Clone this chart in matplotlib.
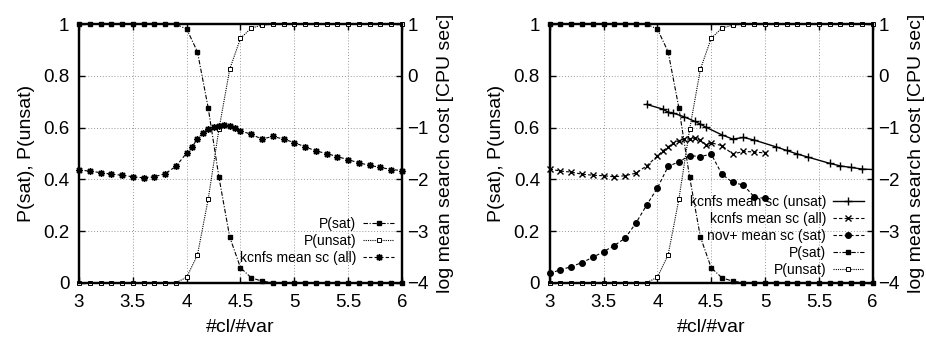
import matplotlib
matplotlib.use("Agg")
import matplotlib.pyplot as plt
from matplotlib.ticker import FuncFormatter

plt.rcParams["font.family"] = ["Liberation Sans", "DejaVu Sans"]

# ── data ─────────────────────────────────────────
ratio = [3.0, 3.1, 3.2, 3.3, 3.4, 3.5, 3.6, 3.7, 3.8, 3.9, 4.0, 4.1, 4.2, 4.3, 4.4, 4.5,
         4.6, 4.7, 4.8, 4.9, 5.0, 5.1, 5.2, 5.3, 5.4, 5.5, 5.6, 5.7, 5.8, 5.9, 6.0]
p_sat = [1, 1, 1, 1, 1, 1, 1, 1, 1, 1, 0.982, 0.894, 0.677, 0.408, 0.177, 0.058,
         0.019, 0.006, 0, 0, 0, 0, 0, 0, 0, 0, 0, 0, 0, 0, 0]
p_unsat = [0, 0, 0, 0, 0, 0, 0, 0, 0, 0, 0.021, 0.107, 0.323, 0.594, 0.826, 0.946,
           0.985, 0.997, 1, 1, 1, 1, 1, 1, 1, 1, 1, 1, 1, 1, 1]

# left panel: kcnfs mean search cost (all)
kc_all_x_l = [3.0, 3.1, 3.2, 3.3, 3.4, 3.5, 3.6, 3.7, 3.8, 3.9,
              4.0, 4.05, 4.1, 4.15, 4.2, 4.25, 4.3, 4.35, 4.4, 4.45, 4.5,
              4.6, 4.7, 4.8, 4.9, 5.0, 5.1, 5.2, 5.3, 5.4, 5.5, 5.6, 5.7, 5.8, 5.9, 6.0]
kc_all_l = [-1.82, -1.84, -1.87, -1.90, -1.92, -1.95, -1.97, -1.95, -1.89, -1.75,
            -1.49, -1.37, -1.22, -1.10, -1.03, -0.98, -0.96, -0.95, -0.97, -1.01, -1.06,
            -1.13, -1.22, -1.17, -1.22, -1.29, -1.37, -1.45, -1.50, -1.56, -1.62, -1.68,
            -1.73, -1.77, -1.81, -1.83]

# right panel
kc_unsat_x = [3.9, 4.05, 4.1, 4.15, 4.25, 4.35, 4.4, 4.45, 4.6, 4.7, 4.8, 4.9,
              5.1, 5.2, 5.3, 5.4, 5.6, 5.7, 5.8, 5.9, 6.0]
kc_unsat = [-0.55, -0.64, -0.70, -0.72, -0.79, -0.88, -0.93, -0.99, -1.14, -1.22, -1.19, -1.24,
            -1.37, -1.44, -1.51, -1.57, -1.69, -1.74, -1.77, -1.80, -1.81]

kc_all_x_r = [3.0, 3.1, 3.2, 3.3, 3.4, 3.5, 3.6, 3.7, 3.8, 3.9,
              4.0, 4.05, 4.1, 4.15, 4.2, 4.25, 4.3, 4.35, 4.4, 4.45, 4.5,
              4.6, 4.7, 4.8, 4.9, 5.0]
kc_all_r = [-1.80, -1.84, -1.86, -1.90, -1.92, -1.93, -1.95, -1.93, -1.88, -1.74,
            -1.55, -1.45, -1.37, -1.30, -1.25, -1.22, -1.22, -1.20, -1.24, -1.33, -1.29,
            -1.35, -1.51, -1.46, -1.47, -1.49]

nov_x = [3.0, 3.1, 3.2, 3.3, 3.4, 3.5, 3.6, 3.7, 3.8, 3.9, 4.0,
         4.1, 4.2, 4.3, 4.4, 4.5, 4.6, 4.7, 4.8, 4.9, 5.0]
nov_sat = [-3.82, -3.75, -3.69, -3.61, -3.51, -3.40, -3.28, -3.14, -2.85, -2.50, -2.17,
           -1.75, -1.66, -1.54, -1.56, -1.51, -1.90, -2.06, -2.11, -2.34, -2.37]

# ── style ────────────────────────────────────────
FS_TICK = 13.5
FS_LABEL = 14
FS_KEY = 10
LW = 0.8
DASHDOT = (0, (4, 1.5, 1, 1.5))
DOTTED = (0, (1, 1))
DASHED = (0, (3, 2))
ASTER = (8, 2, 0)

fmt = FuncFormatter(lambda v, p: ("%g" % v).replace("-", "\u2212"))


def setup_axes(fig, left):
    ax = fig.add_axes([left, 0.1685, 0.3488, 0.7600])
    ax2 = ax.twinx()
    ax.set_xlim(3, 6)
    ax.set_ylim(0, 1)
    ax2.set_ylim(-4, 1)
    ax.set_xticks([3, 3.5, 4, 4.5, 5, 5.5, 6])
    ax.set_yticks([0, 0.2, 0.4, 0.6, 0.8, 1])
    ax2.set_yticks([-4, -3, -2, -1, 0, 1])
    for a in (ax, ax2):
        for s in a.spines.values():
            s.set_linewidth(1.6)
        a.xaxis.set_major_formatter(fmt)
        a.yaxis.set_major_formatter(fmt)
    ax.tick_params(axis="both", direction="in", length=4, width=1, labelsize=FS_TICK,
                   top=True, right=False)
    ax.tick_params(axis="x", pad=8)
    ax.tick_params(axis="y", pad=7)
    ax2.tick_params(axis="y", direction="in", length=4, width=1, labelsize=FS_TICK, pad=4)
    ax.grid(True, color="#999999", linestyle=(0, (1, 2)), linewidth=0.7)
    ax.set_xlabel("#cl/#var", fontsize=FS_LABEL, labelpad=6)
    ax.set_ylabel("P(sat), P(unsat)", fontsize=FS_LABEL, labelpad=6)
    ax2.set_ylabel("log mean search cost [CPU sec]", fontsize=FS_LABEL, labelpad=6)
    return ax, ax2


def psat_lines(ax):
    l1, = ax.plot(ratio, p_sat, color="black", lw=LW, ls=DASHDOT, marker="s",
                  ms=3.5, mfc="black", mec="black", label="P(sat)", clip_on=False, zorder=3)
    l2, = ax.plot(ratio, p_unsat, color="black", lw=LW, ls=DOTTED, marker="s",
                  ms=3.5, mfc="white", mec="black", mew=0.7, label="P(unsat)",
                  clip_on=False, zorder=3)
    return l1, l2


fig = plt.figure(figsize=(9.26, 3.40), dpi=100)

# left panel
ax, ax2 = setup_axes(fig, 0.0853)
h_sat, h_unsat = psat_lines(ax)
h_all, = ax2.plot(kc_all_x_l, kc_all_l, color="black", lw=LW, ls=DASHED, marker=ASTER,
                  ms=5, mew=1.0, label="kcnfs mean sc (all)", clip_on=False)
ax2.legend(handles=[h_sat, h_unsat, h_all], loc="upper right", bbox_to_anchor=(0.975, 0.255),
           frameon=False, markerfirst=False, fontsize=FS_KEY, handlelength=2.2,
           handletextpad=0.5, labelspacing=0.22, borderpad=0, borderaxespad=0, numpoints=1)

# right panel
bx, bx2 = setup_axes(fig, 0.5936)
h_sat, h_unsat = psat_lines(bx)
h_un, = bx2.plot(kc_unsat_x, kc_unsat, color="black", lw=1.0, ls="-", marker="+",
                 ms=6, mew=1.0, markevery=slice(0, -1), label="kcnfs mean sc (unsat)")
h_all, = bx2.plot(kc_all_x_r, kc_all_r, color="black", lw=LW, ls=DASHED, marker="x",
                  ms=4.5, mew=1.0, label="kcnfs mean sc (all)", clip_on=False)
h_nov, = bx2.plot(nov_x, nov_sat, color="black", lw=LW, ls=DASHED, marker="o",
                  ms=4, label="nov+ mean sc (sat)", clip_on=False)
bx2.legend(handles=[h_un, h_all, h_nov, h_sat, h_unsat], loc="upper right",
           bbox_to_anchor=(0.972, 0.34), frameon=False, markerfirst=False,
           fontsize=FS_KEY, handlelength=2.2, handletextpad=0.5, labelspacing=0.22,
           borderpad=0, borderaxespad=0, numpoints=1)

fig.savefig("out.png", dpi=100)
